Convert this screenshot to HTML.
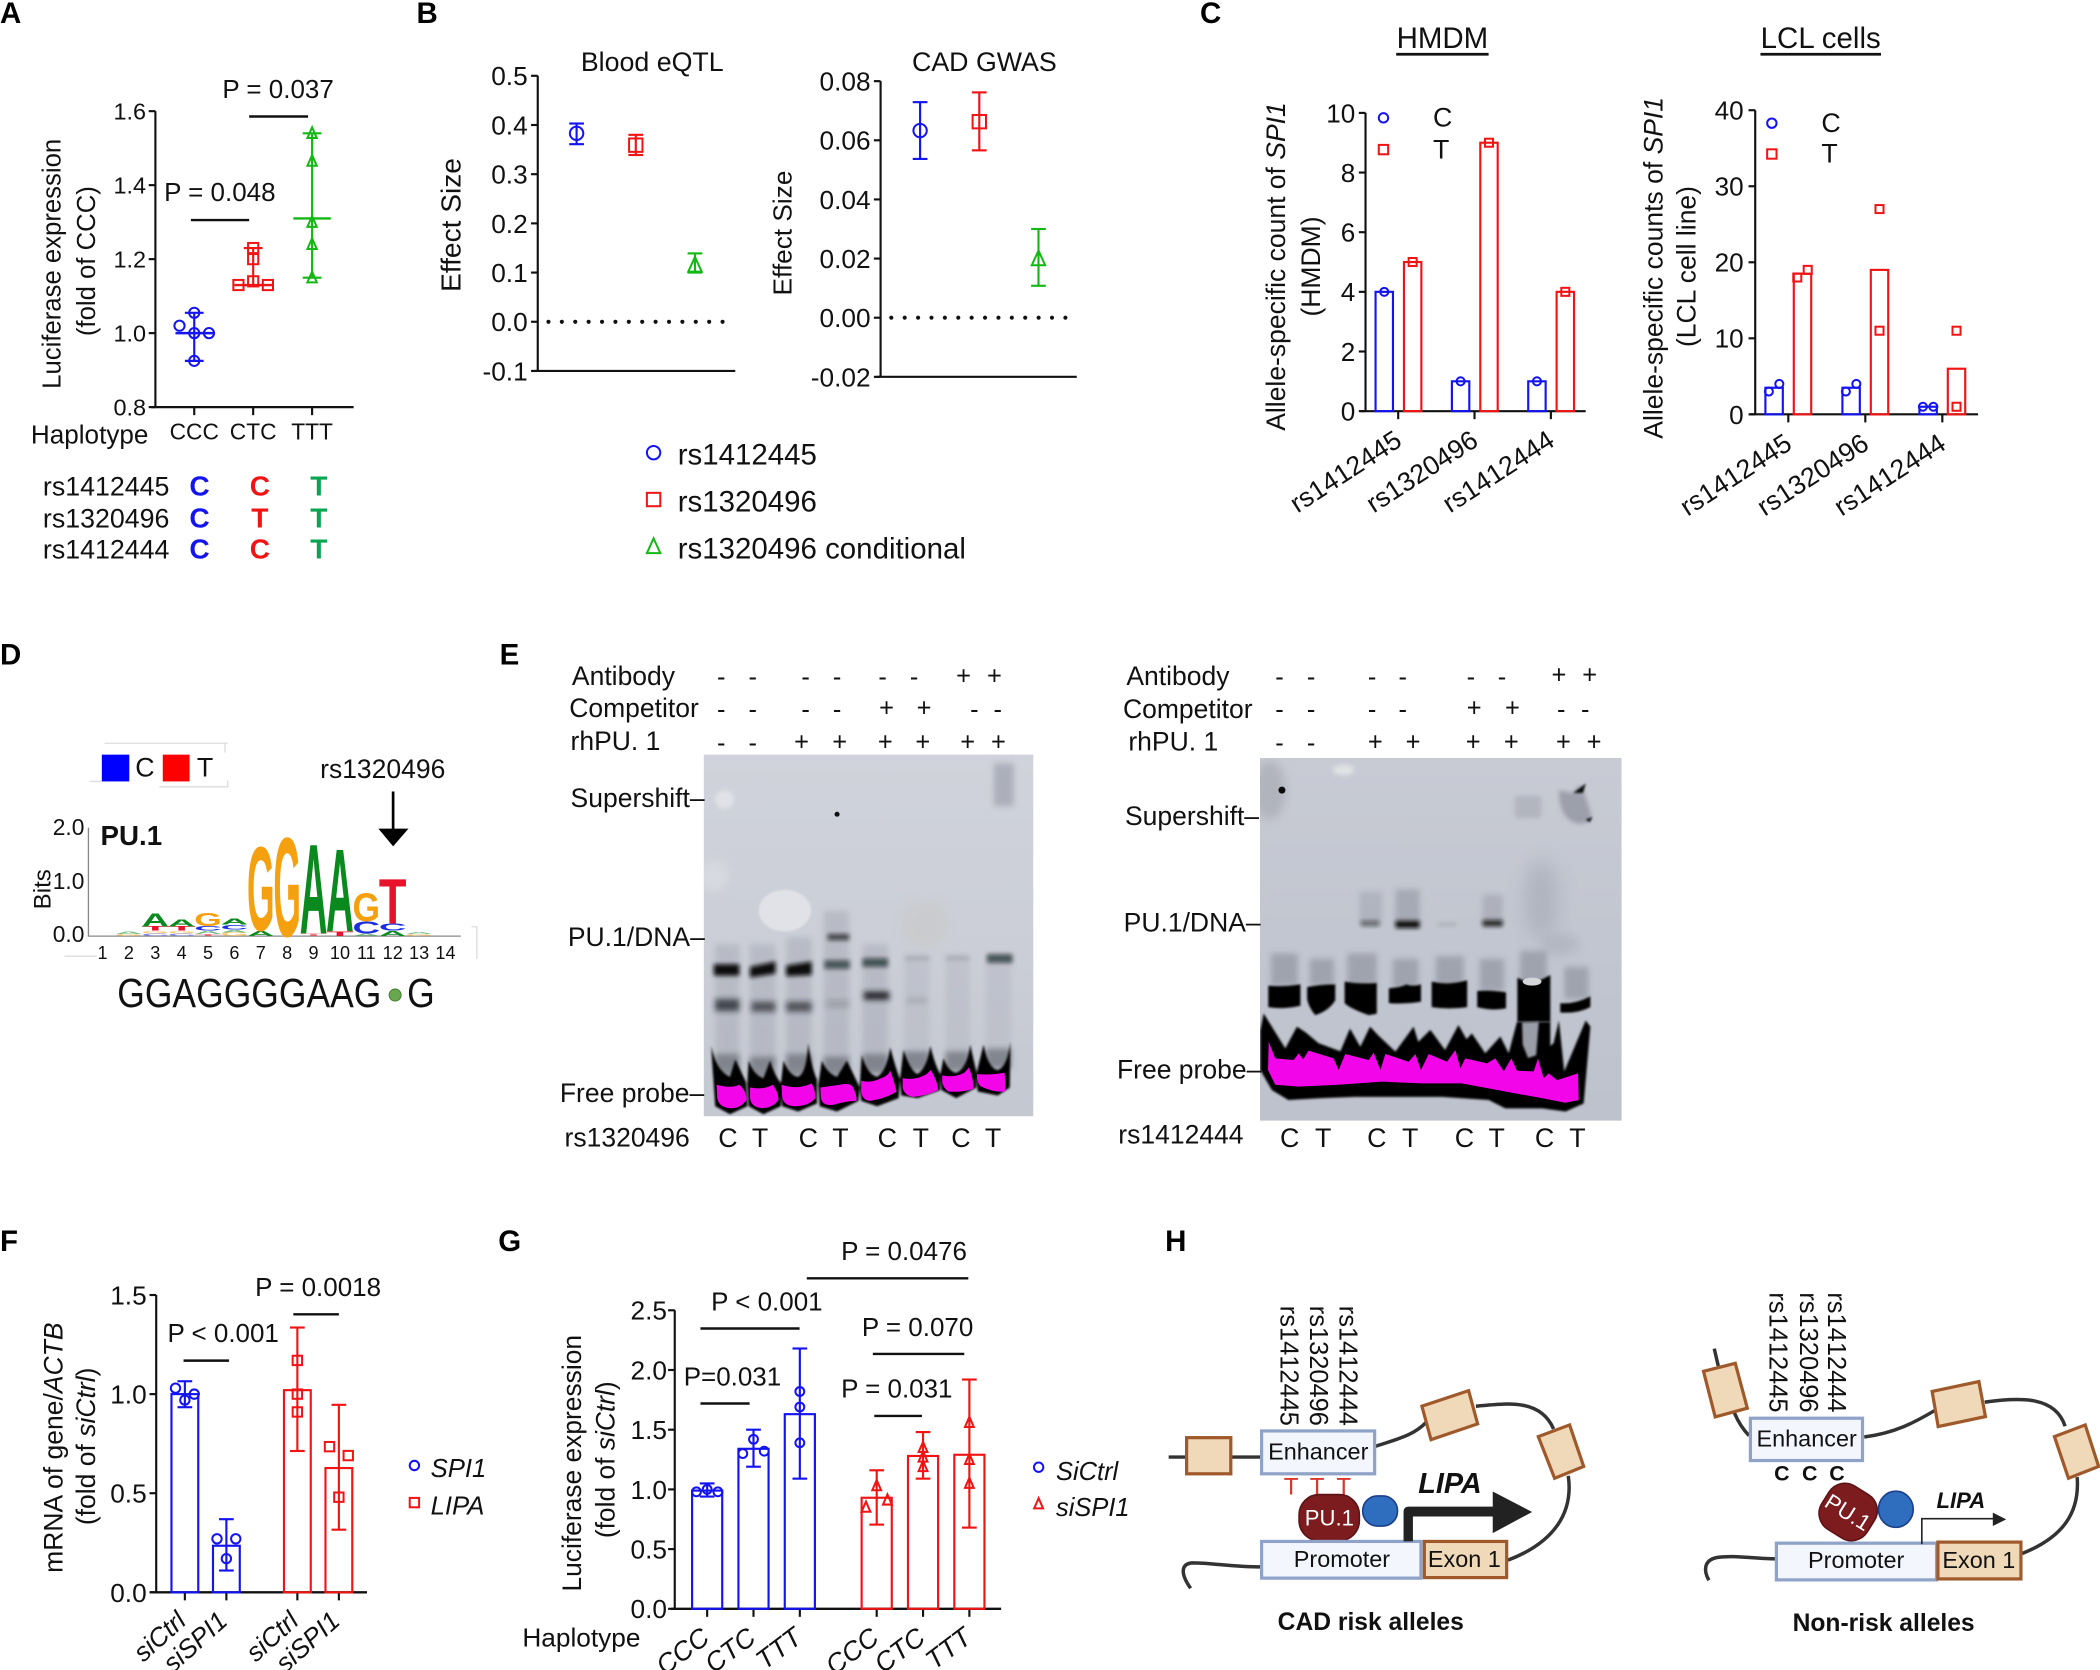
<!DOCTYPE html>
<html lang="en">
<head>
<meta charset="utf-8">
<title>Multi-panel figure: SPI1 and LIPA allele-specific regulation</title>
<style>
html,body{margin:0;padding:0;background:#fff}
svg{display:block}
text{font-family:"Liberation Sans",Arial,sans-serif;fill:#111}
.pl{font-size:22px;font-weight:700;fill:#000}
.g{font-size:20px}
.s{font-size:19px;text-anchor:middle}
.box{font-size:17.5px;text-anchor:middle}
.rs{font-size:19px}
.cap{font-size:18.4px;font-weight:700;fill:#111}
</style>
</head>
<body>
<svg id="figure" xmlns="http://www.w3.org/2000/svg" width="2100" height="1670" viewBox="0 0 1568 1247">
<defs>
<filter id="b1" filterUnits="userSpaceOnUse" x="400" y="500" width="900" height="400"><feGaussianBlur stdDeviation="1.6"/></filter>
<filter id="b2" filterUnits="userSpaceOnUse" x="400" y="500" width="900" height="400"><feGaussianBlur stdDeviation="2.2"/></filter>
<filter id="b3" filterUnits="userSpaceOnUse" x="400" y="500" width="900" height="400"><feGaussianBlur stdDeviation="3.5"/></filter>
<filter id="b6" filterUnits="userSpaceOnUse" x="400" y="500" width="900" height="400"><feGaussianBlur stdDeviation="7"/></filter>
<filter id="b05" filterUnits="userSpaceOnUse" x="400" y="500" width="900" height="400"><feGaussianBlur stdDeviation="0.7"/></filter>
<clipPath id="clipL"><rect x="525.5" y="563.5" width="246" height="270"/></clipPath>
<clipPath id="clipR"><rect x="940.8" y="566" width="270" height="270.8"/></clipPath>
<linearGradient id="gelL" x1="0" y1="0" x2="0" y2="1"><stop offset="0" stop-color="#d0d3db"/><stop offset="0.55" stop-color="#cbced7"/><stop offset="1" stop-color="#c4c8d1"/></linearGradient>
<linearGradient id="gelR" x1="0" y1="0" x2="0" y2="1"><stop offset="0" stop-color="#c8cbd4"/><stop offset="0.6" stop-color="#c1c5cf"/><stop offset="1" stop-color="#bdc2cd"/></linearGradient>
</defs>

<g>
<text class="pl" x="0" y="17">A</text>
<text class="pl" x="311" y="17">B</text>
<text class="pl" x="896" y="17">C</text>
<text class="pl" x="0" y="496">D</text>
<text class="pl" x="373" y="496">E</text>
<text class="pl" x="0" y="934">F</text>
<text class="pl" x="372" y="934">G</text>
<text class="pl" x="870" y="934">H</text>
</g>

<!-- Panel A haplotype table -->
<g>
<text class="g" x="32" y="370">rs1412445</text>
<text class="g" x="32" y="394">rs1320496</text>
<text class="g" x="32" y="417">rs1412444</text>
<g font-size="21" font-weight="700" text-anchor="middle">
<text x="149" y="370" style="fill:#1414f0">C</text><text x="194" y="370" style="fill:#f01414">C</text><text x="238" y="370" style="fill:#0aa550">T</text>
<text x="149" y="394" style="fill:#1414f0">C</text><text x="194" y="394" style="fill:#f01414">T</text><text x="238" y="394" style="fill:#0aa550">T</text>
<text x="149" y="417" style="fill:#1414f0">C</text><text x="194" y="417" style="fill:#f01414">C</text><text x="238" y="417" style="fill:#0aa550">T</text>
</g>
</g>

<!-- Panel D static furniture -->
<g>
<rect x="76" y="563.5" width="20.5" height="20" fill="#0000ff"/>
<text x="101" y="580" font-size="20">C</text>
<rect x="121.5" y="563.5" width="20" height="20" fill="#ff0000"/>
<text x="147" y="580" font-size="20">T</text>
<path d="M67 583.5H76M119 587.5H170V583M168 555V562M78 555H170" stroke="#ddd" fill="none" stroke-width="1"/>
<text x="239" y="581" font-size="19.8">rs1320496</text>
<path d="M293.5 591V620" stroke="#000" stroke-width="2"/>
<path d="M282.5 618.7H305L293.5 632Z" fill="#000"/>
<text x="75" y="631" font-size="20.7" font-weight="700">PU.1</text>
<path d="M66 618V699H344" stroke="#888" stroke-width="1" fill="none"/>
<path d="M48 714H72M352 692H356V716" stroke="#ddd" fill="none" stroke-width="1"/>
<g font-size="17" text-anchor="end">
<text x="63" y="623.5">2.0</text><text x="63" y="664">1.0</text><text x="63" y="703.5">0.0</text>
</g>
<text transform="rotate(-90 37.5 664)" x="37.5" y="664" font-size="18" text-anchor="middle">Bits</text>
<g id="logo"></g>
<g id="logoNums" font-size="13.5" text-anchor="middle"></g>
<text transform="translate(87.5 752) scale(1 1.16)" x="0" y="0" font-size="26.5">GGAGGGGAAG</text>
<circle cx="295" cy="743" r="4.5" fill="#6aa84f" stroke="#3c7a2c" stroke-width=".7"/>
<text transform="translate(304 752) scale(1 1.16)" x="0" y="0" font-size="26.5">G</text>
</g>

<!-- Panel E left gel -->
<g>
<g clip-path="url(#clipL)">
<rect x="525" y="563" width="247" height="271" fill="url(#gelL)"/>
<g fill="#a2a5b0" opacity=".45" filter="url(#b2)">
<rect x="534" y="705" width="18" height="92"/><rect x="560" y="705" width="19" height="92"/><rect x="587" y="700" width="19" height="97"/><rect x="615" y="680" width="19" height="117"/><rect x="644" y="705" width="19" height="92"/><rect x="675" y="712" width="19" height="85" opacity=".6"/><rect x="706" y="712" width="18" height="85" opacity=".6"/><rect x="736" y="712" width="19" height="85" opacity=".6"/>
</g>
<g fill="#5d6069" opacity=".6" filter="url(#b2)">
<rect x="534" y="787" width="18" height="17"/><rect x="560" y="789" width="19" height="17"/><rect x="587" y="787" width="19" height="17"/><rect x="615" y="789" width="19" height="15"/><rect x="644" y="787" width="19" height="15"/><rect x="675" y="785" width="19" height="15"/><rect x="706" y="785" width="18" height="15"/><rect x="736" y="783" width="19" height="15"/>
</g>
<ellipse cx="586" cy="680" rx="19.5" ry="15.5" fill="#e4e5e9" opacity=".9" filter="url(#b05)"/>
<ellipse cx="541" cy="597" rx="7" ry="7" fill="#e5e6ea" opacity=".8" filter="url(#b1)"/>
<ellipse cx="533" cy="654" rx="11" ry="12" fill="#dcdee3" opacity=".7" filter="url(#b3)"/>
<ellipse cx="690" cy="690" rx="18" ry="18" fill="#c9cac8" opacity=".6" filter="url(#b3)"/>
<g fill="#0a0b0e" filter="url(#b1)">
<rect x="533" y="720" width="19" height="8.5"/><path d="M560 722L579 718V727L560 730Z"/><path d="M587 721L606 718V728L587 729Z"/>
<rect x="615.5" y="717" width="19" height="6.5" opacity=".6"/><rect x="644" y="715.5" width="19" height="6.5" opacity=".62"/><rect x="737" y="712.5" width="19" height="6.5" opacity=".62"/>
<rect x="618" y="697.5" width="16" height="4.5" opacity=".7"/>
<rect x="676" y="714" width="18" height="3" opacity=".12"/><rect x="706" y="714" width="18" height="3" opacity=".12"/>
</g>
<g fill="#1e1f25" filter="url(#b2)">
<rect x="534" y="746" width="18" height="9" opacity=".75"/><rect x="561" y="748" width="18" height="7.5" opacity=".65"/><rect x="587" y="748" width="19" height="7.5" opacity=".65"/><rect x="645" y="740.5" width="19" height="6" opacity=".95"/><rect x="617" y="747" width="17" height="5" opacity=".2"/><rect x="677" y="745" width="15" height="4" opacity=".12"/>
</g>
<g fill="#8b8e9c" opacity=".5" filter="url(#b2)"><rect x="742" y="570" width="15" height="32"/></g>
<circle cx="625" cy="608" r="1.9" fill="#111"/>
<g fill="#000" filter="url(#b05)">
<path d="M531 781Q535 800 545 804L549 791L557 808L558 826L545 832L534 826Z"/>
<path d="M558 810L559 792Q563 803 570 805L575 792Q578 803 584 810L583 826L570 832L559 826Z"/>
<path d="M583 810L585 792Q590 804 596 804Q602 802 603.5 779Q606 798 610 806L610 824L596 830L584 826Z"/>
<path d="M611 810L613.7 792Q618 802 625 804L632.3 792L642 812L641 822L625 830L612 826Z"/>
<path d="M642 810L643.5 788Q648 803 655 804Q662 800 664.7 782Q668 795 672 806L671 820L655 826L643 822Z"/>
<path d="M672 806L674.7 784Q680 800 685 802Q692 798 694.6 781Q698 795 702 802L702 814L685 820L673 818Z"/>
<path d="M702 803L704.5 790Q708 800 714 801Q722 798 724.4 780Q727 792 729 800L729 812L714 820L703 814Z"/>
<path d="M729 802L734.4 780Q738 798 745 799Q752 797 754.4 778L754 812L745 818L730 815Z"/>
</g>
<g fill="#f205e8">
<path d="M535 810Q546 813 552 810Q557 814 557.6 821Q553 828 545 827.5Q537 827 535.5 820Z"/>
<path d="M560 812Q570 814 577 810Q581 815 581.3 821Q578 827 569 827.5Q561 827 560 820Z"/>
<path d="M583.5 810Q596 814 606 809Q609 814 608.7 820Q604 826 594 826Q585 826 584 819Z"/>
<path d="M612.5 812Q620 811 627 810Q635 808 637 812Q640 818 639.5 822Q632 822 622 825Q614 826 613 820Z"/>
<path d="M643 807Q650 809 658 805Q664 803 664.5 799Q667 805 669.5 815Q662 820 650 822Q644 822 643 815Z"/>
<path d="M674 805Q684 807 692 802Q694 800 695 799Q700 807 700.5 814Q692 818 682 819Q675 818 674 812Z"/>
<path d="M703.5 803Q712 805 720 801Q722 799 723.5 797Q727 806 727 813Q718 816 708 815Q704 812 703.5 808Z"/>
<path d="M729.5 802Q738 803 750 801Q751 807 750.5 815Q742 816 732 811Q729 808 729.5 802Z"/>
</g>
</g>
<g font-size="19.8">
<text x="427" y="511.5">Antibody</text>
<text x="425" y="535.5">Competitor</text>
<text x="426" y="560">rhPU. 1</text>
<text x="426" y="602.5">Supershift–</text>
<text x="424" y="706.5">PU.1/DNA–</text>
<text x="418" y="823">Free probe–</text>
<text x="421.5" y="856">rs1320496</text>
</g>
<g>
<text class="s" x="538.5" y="512">-</text><text class="s" x="562" y="512">-</text><text class="s" x="601.5" y="512">-</text><text class="s" x="625" y="512">-</text><text class="s" x="659" y="512">-</text><text class="s" x="682.5" y="512">-</text><text class="s" x="719.5" y="511">+</text><text class="s" x="742.5" y="511">+</text>
</g>
<g>
<text class="s" x="538.5" y="536">-</text><text class="s" x="562" y="536">-</text><text class="s" x="601.5" y="536">-</text><text class="s" x="625" y="536">-</text><text class="s" x="662" y="535">+</text><text class="s" x="690" y="535">+</text><text class="s" x="727.5" y="536">-</text><text class="s" x="745" y="536">-</text>
</g>
<g>
<text class="s" x="538.5" y="561">-</text><text class="s" x="562" y="561">-</text><text class="s" x="598.5" y="560.5">+</text><text class="s" x="627" y="560.5">+</text><text class="s" x="661" y="560.5">+</text><text class="s" x="689" y="560.5">+</text><text class="s" x="722.5" y="560.5">+</text><text class="s" x="745.5" y="560.5">+</text>
</g>
<g font-size="20" text-anchor="middle">
<text x="543.5" y="856.5">C</text><text x="567.5" y="856.5">T</text><text x="603.5" y="856.5">C</text><text x="627.5" y="856.5">T</text><text x="662.5" y="856.5">C</text><text x="687.5" y="856.5">T</text><text x="717.5" y="856.5">C</text><text x="741.5" y="856.5">T</text>
</g>
</g>

<!-- Panel E right gel -->
<g>
<g clip-path="url(#clipR)">
<rect x="940" y="565" width="272" height="273" fill="url(#gelR)"/>
<ellipse cx="1151" cy="672" rx="13" ry="30" fill="#9a9eaa" opacity=".45" filter="url(#b6)"/>
<ellipse cx="1165" cy="705" rx="14" ry="8" fill="#9a9eaa" opacity=".35" filter="url(#b3)"/>
<ellipse cx="1003" cy="575" rx="8" ry="4" fill="#e2e4e7" opacity=".9" filter="url(#b1)"/>
<ellipse cx="948" cy="590" rx="12" ry="22" fill="#9fa2aa" opacity=".55" filter="url(#b3)"/>
<circle cx="957.2" cy="590" r="2.6" fill="#0c0c0f"/>
<g fill="#7f828d" filter="url(#b2)" opacity=".5">
<rect x="1015" y="666" width="17" height="22" opacity=".55"/><rect x="1042" y="664" width="18" height="24" opacity=".85"/><rect x="1107" y="668" width="15" height="20" opacity=".65"/>
<rect x="949" y="712" width="20" height="24"/><rect x="978" y="716" width="18" height="20"/><rect x="1006" y="712" width="22" height="24"/><rect x="1040" y="716" width="19" height="22"/><rect x="1072" y="714" width="21" height="22"/><rect x="1105" y="716" width="18" height="24"/><rect x="1135" y="710" width="20" height="24"/><rect x="1168" y="722" width="18" height="24"/>
</g>
<g>
<rect x="1131" y="594" width="20" height="17" rx="3" fill="#9b9ea9" opacity=".45" filter="url(#b1)"/>
<path d="M1164 590Q1164 612 1178 615Q1188 616 1188 608Q1184 594 1180 586L1174 592Z" fill="#8f929d" opacity=".75" filter="url(#b1)"/>
<path d="M1175 592L1184 585L1182 592ZM1184 612L1189 610L1187 614Z" fill="#0c0c10" filter="url(#b05)"/>
</g>
<g fill="#0c0c10" filter="url(#b1)">
<rect x="1016" y="687.5" width="14" height="4" opacity=".55"/><rect x="1042" y="687.5" width="18" height="5.5"/><rect x="1073" y="689.5" width="15" height="1.5" opacity=".18"/><rect x="1107" y="687" width="15" height="4.8" opacity=".85"/>
</g>
<g fill="#000" filter="url(#b05)">
<path d="M947 736Q958 737 971 735V751Q958 754 947 752Z"/>
<path d="M976 737Q986 735 997 735V747Q992 755 982 758Q977 752 976 746Z"/>
<path d="M1004 733Q1015 735 1028 734V757L1022 758Q1008 753 1004 749Z"/>
<path d="M1037 738Q1047 737 1050 735Q1055 737 1061 735V748Q1049 750 1037 749Z"/>
<path d="M1069 733Q1082 736 1095.5 732V752Q1082 754 1069 752Z"/>
<path d="M1103 740Q1113 739 1124.5 741V753Q1114 755 1103 752Z"/>
<path d="M1133 730Q1142 735 1150 732Q1154 730 1157.6 728V763H1133Z"/>
<path d="M1165 749Q1176 750 1187.5 744V752Q1178 757 1165 756Z"/>
</g>
<ellipse cx="1144" cy="733" rx="7" ry="3" fill="#d5d6da"/>
<path filter="url(#b05)" fill="#000" d="M941 770L943.5 756.7L959.7 782.8L968.4 766.6L975 771L984.6 779L1000.8 785L1008 768L1015.7 781.6L1023 766.6L1029 773L1041.9 785.3L1055.5 766.6L1059 778L1068 769L1079 784L1089 765.4L1095 776L1099 771.6L1109 786.5L1120.3 774L1126.5 786.5L1132.7 763H1157.6V781L1160 779L1164 762L1168 800L1184 762L1187.5 766.6L1182.5 824L1169 830L1151.4 827.6L1124 827.6L1111.6 821.4L1076.7 819L1012 819L987 820L962 821.4L949.7 814L941 799Z"/>
<path d="M1136.5 763.5L1149 763L1147 788L1141 790L1137 780Z" fill="#9a9da7" filter="url(#b05)"/>
<path fill="#f205e8" d="M947.3 777.8L952.2 790.3L966 791.5L969.7 786.5L973 791L977.1 784.5L995.8 790.3L999.5 799L1004.5 787L1022 791.5L1025.7 786L1030.7 799L1034.4 787L1051.8 792.8L1056.8 787L1061 799L1066.8 787L1080.4 792.8L1086.7 784L1090.4 797.7L1094.1 790.3L1110.3 794L1116.5 790.3L1122.8 800L1128.5 790.3L1132.7 799.5L1145.2 800L1148.4 790.3L1152.6 805L1156.4 801.5L1162.6 806.5L1178.3 801.5L1178.8 821.4L1168.8 823.4L1151.4 820L1131.5 816.4L1111.6 812.7L1091.3 809L1061.8 809L1032 807.7L999.5 810L969.7 811.4L952.2 810L946.8 799Z"/>
</g>
<g font-size="19.8">
<text x="841" y="511.5">Antibody</text>
<text x="838.5" y="536">Competitor</text>
<text x="842.5" y="560.5">rhPU. 1</text>
<text x="840" y="616">Supershift–</text>
<text x="839" y="695.5">PU.1/DNA–</text>
<text x="834" y="805.5">Free probe–</text>
<text x="835" y="854">rs1412444</text>
</g>
<g>
<text class="s" x="955.4" y="512">-</text><text class="s" x="979" y="512">-</text><text class="s" x="1024.5" y="512">-</text><text class="s" x="1047.4" y="512">-</text><text class="s" x="1098.3" y="512">-</text><text class="s" x="1121.5" y="512">-</text><text class="s" x="1164" y="510.5">+</text><text class="s" x="1187" y="510.5">+</text>
</g>
<g>
<text class="s" x="955.4" y="536">-</text><text class="s" x="979" y="536">-</text><text class="s" x="1024.5" y="536">-</text><text class="s" x="1047.4" y="536">-</text><text class="s" x="1100.7" y="535">+</text><text class="s" x="1129.3" y="535">+</text><text class="s" x="1165.8" y="536">-</text><text class="s" x="1183.7" y="536">-</text>
</g>
<g>
<text class="s" x="955.4" y="561">-</text><text class="s" x="979" y="561">-</text><text class="s" x="1026.9" y="560.5">+</text><text class="s" x="1055.1" y="560.5">+</text><text class="s" x="1100" y="560.5">+</text><text class="s" x="1128.5" y="560.5">+</text><text class="s" x="1167.4" y="560.5">+</text><text class="s" x="1190.3" y="560.5">+</text>
</g>
<g font-size="20" text-anchor="middle">
<text x="963" y="856.5">C</text><text x="988" y="856.5">T</text><text x="1028" y="856.5">C</text><text x="1053" y="856.5">T</text><text x="1093.5" y="856.5">C</text><text x="1117.5" y="856.5">T</text><text x="1153.3" y="856.5">C</text><text x="1177.8" y="856.5">T</text>
</g>
</g>

<!-- Panel H left -->
<g>
<g fill="none" stroke="#333" stroke-width="2.6">
<path d="M872.6 1088H942"/>
<path d="M1027 1080C1045 1074 1055 1072 1065 1062"/>
<path d="M1102 1050C1125 1048 1150 1044 1160 1067"/>
<path d="M1171 1102C1175 1130 1160 1152 1126 1165"/>
<path d="M942 1170C920 1170 905 1167 890 1167C881 1168 882 1176 889 1186"/>
</g>
<g fill="#efd9b8" stroke="#a0592a" stroke-width="2.4">
<rect x="886" y="1073.5" width="33" height="27"/>
<path d="M1061.7 1050L1096.6 1038.4L1103.3 1063.2L1068.5 1075Z"/>
<path d="M1148.6 1072.7L1172 1064L1182.5 1095L1160.8 1103.8Z"/>
</g>
<rect x="942" y="1068.5" width="84.4" height="32" fill="#f4f6fe" stroke="#8fa3c8" stroke-width="2.4"/>
<text class="box" x="984.3" y="1090">Enhancer</text>
<text class="rs" transform="rotate(90 956 975)" x="956" y="975">rs1412445</text>
<text class="rs" transform="rotate(90 978 975)" x="978" y="975">rs1320496</text>
<text class="rs" transform="rotate(90 1000 975)" x="1000" y="975">rs1412444</text>
<g font-size="18" text-anchor="middle">
<text x="964" y="1116" style="fill:#d9382e">T</text><text x="983.5" y="1116" style="fill:#d9382e">T</text><text x="1003.3" y="1116" style="fill:#d9382e">T</text>
</g>
<rect x="970" y="1116" width="45" height="34.5" rx="15" fill="#7c1c1f" stroke="#5d1214" stroke-width="1.2"/>
<text x="992.6" y="1139" font-size="16.5" text-anchor="middle" style="fill:#fff">PU.1</text>
<rect x="1017.5" y="1117" width="26" height="22.5" rx="11" fill="#2f6dbf" stroke="#1c3f8a" stroke-width="1.2"/>
<rect x="942" y="1151" width="119" height="27.4" fill="#f4f6fe" stroke="#8fa3c8" stroke-width="2.4"/>
<text class="box" x="1002" y="1170">Promoter</text>
<rect x="1063.5" y="1151" width="61.5" height="27" fill="#efd9b8" stroke="#a0592a" stroke-width="2.4"/>
<text class="box" x="1093.4" y="1170">Exon 1</text>
<path d="M1048 1151V1129Q1048 1125 1052 1125H1114.6V1113.7L1144 1129L1114.6 1144.8V1132.4H1055V1151Z" fill="#222"/>
<text x="1059" y="1115" font-size="21.5" font-weight="700" font-style="italic">LIPA</text>
<text class="cap" x="954" y="1217">CAD risk alleles</text>
</g>

<!-- Panel H right -->
<g>
<g fill="none" stroke="#333" stroke-width="2.6">
<path d="M1280 1007L1283 1020"/>
<path d="M1295 1055C1298 1062 1302 1068 1306 1072"/>
<path d="M1392 1073C1415 1070 1430 1062 1445 1053"/>
<path d="M1482 1047C1510 1043 1535 1043 1542 1065"/>
<path d="M1551 1103C1553 1130 1540 1148 1510 1160"/>
<path d="M1326 1164C1310 1164 1295 1161 1282 1163C1272 1165 1272 1173 1276 1180"/>
</g>
<g fill="#efd9b8" stroke="#a0592a" stroke-width="2.4">
<path d="M1272 1024L1295.7 1018L1304.7 1051.5L1280.7 1058Z"/>
<path d="M1442.7 1039L1477.6 1031.6L1482.5 1057.8L1447.2 1065.2Z"/>
<path d="M1534 1072.7L1557 1064L1567 1095L1544.5 1103.8Z"/>
</g>
<rect x="1307" y="1059" width="83.7" height="31.6" fill="#f4f6fe" stroke="#8fa3c8" stroke-width="2.4"/>
<text class="box" x="1349" y="1080">Enhancer</text>
<text class="rs" transform="rotate(90 1321.4 965)" x="1321.4" y="965">rs1412445</text>
<text class="rs" transform="rotate(90 1344 965)" x="1344" y="965">rs1320496</text>
<text class="rs" transform="rotate(90 1365 965)" x="1365" y="965">rs1412444</text>
<g font-size="16" font-weight="700" text-anchor="middle">
<text x="1330.5" y="1105.5">C</text><text x="1351.3" y="1105.5">C</text><text x="1371.7" y="1105.5">C</text>
</g>
<g transform="rotate(32 1380 1129)">
<rect x="1360" y="1110" width="40" height="38" rx="14" fill="#7c1c1f" stroke="#5d1214" stroke-width="1.2"/>
<text x="1380" y="1135" font-size="16.5" text-anchor="middle" style="fill:#fff">PU.1</text>
</g>
<ellipse cx="1415.6" cy="1127" rx="13" ry="13.5" fill="#2f6dbf" stroke="#1c3f8a" stroke-width="1.2"/>
<rect x="1326.4" y="1152.3" width="119.6" height="27.4" fill="#f4f6fe" stroke="#8fa3c8" stroke-width="2.4"/>
<text class="box" x="1386" y="1171">Promoter</text>
<rect x="1447" y="1151.5" width="62" height="27.5" fill="#efd9b8" stroke="#a0592a" stroke-width="2.4"/>
<text class="box" x="1477.6" y="1171">Exon 1</text>
<path d="M1435 1153V1134H1490" fill="none" stroke="#222" stroke-width="1.2"/>
<path d="M1488 1129.5L1498 1134.5L1488 1139.5Z" fill="#222"/>
<text x="1446" y="1126" font-size="16.5" font-weight="700" font-style="italic">LIPA</text>
<text class="cap" x="1338.5" y="1218">Non-risk alleles</text>
</g>

<g id="charts"></g>
</svg>

<script>
// ---------- Panel A ----------
const aCategories = ['CCC', 'CTC', 'TTT'];
const aTicks = [0.8, 1.0, 1.2, 1.4, 1.6];
const aPointsCCC = [1.055, 1.02, 1.0, 1.0, 0.925];
const aPointsCTC = [1.23, 1.2, 1.13, 1.14, 1.13];
const aPointsTTT = [1.54, 1.465, 1.3, 1.24, 1.15];
const aMedian = [1.0, 1.13, 1.31];
const aLow = [0.925, 1.13, 1.15];
const aHigh = [1.055, 1.23, 1.54];

// ---------- Panel B ----------
const bSnps = ['rs1412445', 'rs1320496', 'rs1320496 conditional'];
const eqtlTicks = [-0.1, 0.0, 0.1, 0.2, 0.3, 0.4, 0.5];
const eqtlEffect = [0.383, 0.359, 0.1155];
const eqtlLow = [0.361, 0.339, 0.1];
const eqtlHigh = [0.403, 0.38, 0.139];
const gwasTicks = [-0.02, 0.0, 0.02, 0.04, 0.06, 0.08];
const gwasEffect = [0.0633, 0.0663, 0.02];
const gwasLow = [0.0537, 0.0566, 0.0108];
const gwasHigh = [0.0729, 0.0762, 0.03];

// ---------- Panel C ----------
const cSnps = ['rs1412445', 'rs1320496', 'rs1412444'];
const hmdmTicks = [0, 2, 4, 6, 8, 10];
const hmdmAlleleC = [4, 1, 1];
const hmdmAlleleT = [5, 9, 4];
const lclTicks = [0, 10, 20, 30, 40];
const lclMeanC = [3.5, 3.5, 1];
const lclMeanT = [18.5, 19, 6];
const lclPointsC = [[3, 4], [3, 4], [1, 1]];
const lclPointsT = [[18, 19], [11, 27], [1, 11]];

// ---------- Panel D ----------
const logoPositions = [2, 3, 4, 5, 6, 7, 8, 9, 10, 11, 12, 13];
const logoStacks = [
  [['G', 0.04], ['A', 0.05]],
  [['C', 0.05], ['G', 0.05], ['T', 0.08], ['A', 0.25]],
  [['C', 0.05], ['G', 0.05], ['T', 0.08], ['A', 0.13]],
  [['T', 0.04], ['A', 0.06], ['C', 0.09], ['G', 0.24]],
  [['G', 0.07], ['A', 0.05], ['C', 0.09], ['A', 0.11]],
  [['A', 0.1], ['G', 1.59]],
  [['G', 1.88]],
  [['T', 0.05], ['A', 1.7]],
  [['T', 0.09], ['A', 1.56]],
  [['A', 0.05], ['C', 0.23], ['G', 0.53]],
  [['A', 0.1], ['C', 0.13], ['T', 0.85]],
  [['G', 0.04], ['A', 0.04]]
];

// ---------- Panel F ----------
const fLabels = ['siCtrl', 'siSPI1'];
const fTicks = [0.0, 0.5, 1.0, 1.5];
const fMeanSPI1 = [1.0, 0.235];
const fLowSPI1 = [0.934, 0.11];
const fHighSPI1 = [1.065, 0.369];
const fPointsSPI1 = [[1.03, 0.97, 1.0], [0.27, 0.27, 0.17]];
const fMeanLIPA = [1.02, 0.627];
const fLowLIPA = [0.713, 0.316];
const fHighLIPA = [1.336, 0.946];
const fPointsLIPA = [[1.17, 1.0, 0.91], [0.735, 0.69, 0.48]];

// ---------- Panel G ----------
const gHaplotypes = ['CCC', 'CTC', 'TTT'];
const gTicks = [0.0, 0.5, 1.0, 1.5, 2.0, 2.5];
const gMeanCtrl = [0.99, 1.34, 1.63];
const gLowCtrl = [0.94, 1.19, 1.09];
const gHighCtrl = [1.05, 1.5, 2.18];
const gPointsCtrl = [[0.98, 1.0, 0.98], [1.3, 1.42, 1.32], [1.82, 1.69, 1.39]];
const gMeanSi = [0.93, 1.28, 1.29];
const gLowSi = [0.705, 1.09, 0.68];
const gHighSi = [1.16, 1.48, 1.92];
const gPointsSi = [[0.85, 1.03, 0.91], [1.35, 1.27, 1.19], [1.56, 1.25, 1.05]];

// ---------- helpers ----------
const NS = 'http://www.w3.org/2000/svg';
const BLUE = '#1414f0', RED = '#f01414', GREEN = '#14b814';
const root = document.getElementById('charts');

function node(tag, attrs, parent) {
  const n = document.createElementNS(NS, tag);
  for (const k in attrs) n.setAttribute(k, attrs[k]);
  (parent || root).appendChild(n);
  return n;
}
function group(name, parent) {
  const g = node('g', {}, parent);
  
  
  return g;
}
function linear(d0, d1, r0, r1) {
  return v => r0 + (v - d0) * (r1 - r0) / (d1 - d0);
}
function label(parent, name, parts, x, y, size, o) {
  o = o || {};
  const a = { x: x, y: y, 'font-size': size };
  if (o.anchor) a['text-anchor'] = o.anchor;
  if (o.weight) a['font-weight'] = o.weight;
  if (o.italic) a['font-style'] = 'italic';
  if (o.rotate) a.transform = 'rotate(' + o.rotate + ' ' + x + ' ' + y + ')';
  const t = node('text', a, parent);
  
  
  if (o.fill) t.style.fill = o.fill;
  (Array.isArray(parts) ? parts : [parts]).forEach(p => {
    if (typeof p === 'string') t.appendChild(document.createTextNode(p));
    else {
      const s = node('tspan', { 'font-style': 'italic' }, t);
      s.textContent = p.i;
    }
  });
  return t;
}
function line(parent, name, x1, y1, x2, y2, color, w) {
  const l = node('line', { x1: x1, y1: y1, x2: x2, y2: y2, stroke: color || '#111', 'stroke-width': w || 1.6 }, parent);
  
  
  return l;
}
function marker(parent, name, kind, x, y, color, r) {
  r = r || 4;
  let m;
  const base = { fill: 'none', stroke: color, 'stroke-width': 1.5 };
  if (kind === 'circle') m = node('circle', Object.assign({ cx: x, cy: y, r: r }, base), parent);
  else if (kind === 'square') m = node('rect', Object.assign({ x: x - r, y: y - r, width: 2 * r, height: 2 * r }, base), parent);
  else m = node('path', Object.assign({ d: 'M' + x + ' ' + (y - r - 1) + 'L' + (x + r) + ' ' + (y + r) + 'L' + (x - r) + ' ' + (y + r) + 'Z' }, base), parent);
  
  
  return m;
}
function yAxis(parent, name, scale, ticks, x, top, bottom, labelX, size, digits) {
  const g = group(name, parent);
  line(g, 'y-axis-line', x, scale(top), x, scale(bottom));
  ticks.forEach(v => {
    line(g, 'y-tick', x - 5, scale(v), x, scale(v));
    label(g, 'y-tick-label', v.toFixed(digits), labelX, scale(v) + size * 0.36, size, { anchor: 'end' });
  });
  return g;
}
function swarm(values, scale, spread) {
  const ys = values.map(scale);
  const cluster = values.map((_, i) => i);
  ys.forEach((a, i) => ys.forEach((b, j) => {
    if (j > i && Math.abs(a - b) < 7) {
      const from = cluster[j], to = cluster[i];
      cluster.forEach((c, k) => { if (c === from) cluster[k] = to; });
    }
  }));
  return values.map((_, i) => {
    const members = cluster.map((c, k) => c === cluster[i] ? k : -1).filter(k => k >= 0);
    if (members.length < 2) return 0;
    const rank = members.indexOf(i);
    return (2 * rank / (members.length - 1) - 1) * spread;
  });
}
function errorBar(parent, name, x, yLow, yHigh, cap, color) {
  const g = group(name, parent);
  line(g, 'error-stem', x, yLow, x, yHigh, color);
  line(g, 'error-cap-low', x - cap, yLow, x + cap, yLow, color);
  line(g, 'error-cap-high', x - cap, yHigh, x + cap, yHigh, color);
}
function bar(parent, name, cx, w, yTop, yBase, color) {
  const b = node('rect', { x: cx - w / 2, y: yTop, width: w, height: Math.max(0, yBase - yTop), fill: 'none', stroke: color, 'stroke-width': 1.6 }, parent);
  
  
}
function sig(parent, name, text, tx, ty, x1, x2, ly) {
  label(parent, name + '-text', text, tx, ty, 19.4);
  line(parent, name + '-bracket', x1, ly, x2, ly, '#111', 1.8);
}

// ---------- Panel A ----------
(function () {
  const g = group('panel-a-luciferase-haplotypes');
  const y = linear(0.8, 1.6, 304, 83);
  const x = i => 145 + 44 * i;
  yAxis(g, 'panel-a-y-axis', y, aTicks, 116, 1.6, 0.8, 109, 17.5, 1);
  line(g, 'panel-a-x-axis', 113, y(0.8), 264, y(0.8));
  label(g, 'panel-a-y-title', 'Luciferase expression', 45, 197, 19.2, { anchor: 'middle', rotate: -90 });
  label(g, 'panel-a-y-subtitle', '(fold of CCC)', 71, 195, 19.2, { anchor: 'middle', rotate: -90 });
  label(g, 'haplotype-label', 'Haplotype', 23, 331, 19.5);
  const colors = [BLUE, RED, GREEN], kinds = ['circle', 'square', 'triangle'];
  const series = [aPointsCCC, aPointsCTC, aPointsTTT];
  aCategories.forEach((c, i) => {
    line(g, 'x-tick', x(i), 304, x(i), 310);
    label(g, 'x-tick-label', c, x(i), 328, 17, { anchor: 'middle' });
    errorBar(g, 'range-' + c, x(i), y(aLow[i]), y(aHigh[i]), 7, colors[i]);
    line(g, 'median-' + c, x(i) - 14, y(aMedian[i]), x(i) + 14, y(aMedian[i]), colors[i], 1.8);
    const off = swarm(series[i], y, 11);
    series[i].forEach((v, k) => {
      marker(g, 'point-' + c, kinds[i], x(i) + off[k], y(v), colors[i], i === 2 ? 3.5 : 3.8);
    });
  });
  sig(g, 'p-value-ccc-ctc', 'P = 0.048', 122.5, 150, 142.5, 186, 164.3);
  sig(g, 'p-value-ctc-ttt', 'P = 0.037', 166, 73, 186, 230, 87);
})();

// ---------- Panel B ----------
function effectPlot(name, title, titleX, axisX, axisRight, yTop, yBot, vMax, vMin, ticks, digits, labelX, effect, low, high, firstX, yLabelX, yLabelY, yLabelSize) {
  const g = group(name);
  const y = linear(vMin, vMax, yBot, yTop);
  const x = i => firstX + 44.2 * i;
  yAxis(g, name + '-y-axis', y, ticks, axisX, vMax, vMin, labelX, 19.6, digits);
  line(g, name + '-x-axis', axisX - 3, y(vMin), axisRight, y(vMin));
  label(g, name + '-title', title, titleX, 53, 20, { anchor: 'middle' });
  label(g, name + '-y-title', 'Effect Size', yLabelX, yLabelY, yLabelSize, { anchor: 'middle', rotate: -90 });
  const zero = node('line', { x1: axisX + 8, y1: y(0), x2: axisRight - 2, y2: y(0), stroke: '#111', 'stroke-width': 3.1, 'stroke-dasharray': '0 10', 'stroke-linecap': 'round' }, g);
  
  
  const colors = [BLUE, RED, GREEN], kinds = ['circle', 'square', 'triangle'];
  bSnps.forEach((s, i) => {
    errorBar(g, 'error-bar-' + i, x(i), y(low[i]), y(high[i]), 5.5, colors[i]);
    marker(g, 'effect-' + s.replace(' ', '-'), kinds[i], x(i), y(effect[i]), colors[i], 5);
  });
}
effectPlot('blood-eqtl', 'Blood eQTL', 487, 401.5, 549, 56.6, 277, 0.5, -0.1, eqtlTicks, 1, 394, eqtlEffect, eqtlLow, eqtlHigh, 430.5, 344, 168, 21);
effectPlot('cad-gwas', 'CAD GWAS', 735, 657.5, 804, 60.6, 281.4, 0.08, -0.02, gwasTicks, 2, 650, gwasEffect, gwasLow, gwasHigh, 687, 591, 174, 19.6);
(function () {
  const g = group('panel-b-legend');
  const colors = [BLUE, RED, GREEN], kinds = ['circle', 'square', 'triangle'], ys = [338, 373, 408];
  bSnps.forEach((s, i) => {
    marker(g, 'legend-marker', kinds[i], 488, ys[i], colors[i], 5);
    label(g, 'legend-label', s, 506, ys[i] + 9, 22);
  });
})();

// ---------- Panel C ----------
function alleleAxes(name, title, titleX, underline, axisX, axisRight, y, ticks, top, labelX, firstX, step, yTitle, yLine2, t1x, t2x, t1y, t2y, legX, legTx, legY1, legY2) {
  const g = group(name);
  const y0 = y(0);
  yAxis(g, name + '-y-axis', y, ticks, axisX, top, 0, labelX, 19.5, 0);
  line(g, name + '-x-axis', axisX - 4, y0, axisRight, y0);
  cSnps.forEach((s, i) => {
    const cx = firstX + step * i;
    line(g, 'x-tick', cx, y0, cx, y0 + 6);
    label(g, 'x-tick-label', s, cx + 4, y0 + 25, 20, { anchor: 'end', rotate: -33 });
  });
  label(g, name + '-title', title, titleX, 36, 22, { anchor: 'middle' });
  line(g, name + '-title-underline', titleX - underline / 2, 40.5, titleX + underline / 2, 40.5, '#111', 2);
  label(g, name + '-y-title', yTitle, t1x, t1y, 19.8, { anchor: 'middle', rotate: -90 });
  label(g, name + '-y-subtitle', yLine2, t2x, t2y, 19.8, { anchor: 'middle', rotate: -90 });
  marker(g, 'legend-marker-c', 'circle', legX, legY1, BLUE, 3.5);
  marker(g, 'legend-marker-t', 'square', legX, legY2, RED, 3.5);
  label(g, 'legend-label-c', 'C', legTx, legY1 + 6.5, 20);
  label(g, 'legend-label-t', 'T', legTx, legY2 + 6.5, 20);
  return g;
}
(function () {
  const y = linear(0, 10, 307, 84.3);
  const cx = i => 1044.2 + 57 * i;
  const g = alleleAxes('hmdm-chart', 'HMDM', 1077, 69, 1019.6, 1184, y, hmdmTicks, 10, 1012, 1044, 57,
    ['Allele-specific count of ', { i: 'SPI1' }], '(HMDM)', 959.5, 985.7, 199, 199, 1033, 1070, 88, 111.7);
  cSnps.forEach((s, i) => {
    bar(g, 'bar-c-' + s, cx(i) - 10.6, 13, y(hmdmAlleleC[i]), y(0), BLUE);
    bar(g, 'bar-t-' + s, cx(i) + 10.6, 13, y(hmdmAlleleT[i]), y(0), RED);
    marker(g, 'point-c-' + s, 'circle', cx(i) - 10.6, y(hmdmAlleleC[i]), BLUE, 3);
    marker(g, 'point-t-' + s, 'square', cx(i) + 10.6, y(hmdmAlleleT[i]), RED, 3);
  });
})();
(function () {
  const y = linear(0, 40, 309.4, 82.3);
  const cx = i => 1335.3 + 57.5 * i;
  const g = alleleAxes('lcl-chart', 'LCL cells', 1359.5, 90, 1310.6, 1477, y, lclTicks, 40, 1302, 1335.3, 57.5,
    ['Allele-specific counts of ', { i: 'SPI1' }], '(LCL cell line)', 1241.4, 1266, 200, 199, 1323, 1360, 92, 115);
  cSnps.forEach((s, i) => {
    bar(g, 'bar-c-' + s, cx(i) - 10.6, 13, y(lclMeanC[i]), y(0), BLUE);
    bar(g, 'bar-t-' + s, cx(i) + 10.6, 13, y(lclMeanT[i]), y(0), RED);
    const oc = swarm(lclPointsC[i], y, 3.9), ot = swarm(lclPointsT[i], y, 3.9);
    lclPointsC[i].forEach((v, k) => {
      marker(g, 'point-c-' + s, 'circle', cx(i) - 10.6 + oc[k], y(v), BLUE, 3);
    });
    lclPointsT[i].forEach((v, k) => {
      marker(g, 'point-t-' + s, 'square', cx(i) + 10.6 + ot[k], y(v), RED, 3);
    });
  });
})();

// ---------- Panel D logo ----------
(function () {
  const lg = document.getElementById('logo'), nums = document.getElementById('logoNums');
  const y = linear(0, 2, 699, 618);
  const x = p => 76.5 + 19.7 * (p - 1);
  const widths = { A: 0.722, C: 0.722, G: 0.778, T: 0.611 };
  const fills = { A: '#0a8a1e', C: '#1a2ee0', G: '#f5a00f', T: '#e8122a' };
  for (let p = 1; p <= 14; p++) {
    const n = node('text', { x: x(p), y: 716 }, nums);
    
    
    n.textContent = p;
  }
  logoPositions.forEach((p, i) => {
    let base = 0;
    logoStacks[i].forEach(st => {
      const letter = st[0], bits = st[1];
      const yb = y(base), h = y(0) - y(bits);
      const sx = 20.6 / (widths[letter] * 100), sy = h / 72;
      const t = node('text', { x: 0, y: 0, 'font-size': 100, 'font-weight': 700, transform: 'translate(' + (x(p) - 10.3) + ' ' + yb + ') scale(' + sx + ' ' + sy + ')' }, lg);
      
      
      t.style.fill = fills[letter];
      if (bits < 0.08) t.style.opacity = 0.55;
      t.textContent = letter;
      base += bits;
    });
  });
})();

// ---------- Panel F ----------
(function () {
  const g = group('panel-f-mrna');
  const y = linear(0, 1.5, 1189, 967);
  const x = (gp, i) => 138 + 84 * gp + 31 * i;
  yAxis(g, 'panel-f-y-axis', y, fTicks, 116.6, 1.5, 0, 109.5, 19.6, 1);
  line(g, 'panel-f-x-axis', 112, y(0), 274, y(0), '#111', 1.8);
  label(g, 'panel-f-y-title', ['mRNA of gene/', { i: 'ACTB' }], 46.5, 1081, 19.8, { anchor: 'middle', rotate: -90 });
  label(g, 'panel-f-y-subtitle', ['(fold of ', { i: 'siCtrl' }, ')'], 71, 1080, 19.8, { anchor: 'middle', rotate: -90 });
  const sets = [
    [fMeanSPI1, fLowSPI1, fHighSPI1, fPointsSPI1, BLUE, 'circle', 'spi1'],
    [fMeanLIPA, fLowLIPA, fHighLIPA, fPointsLIPA, RED, 'square', 'lipa']
  ];
  sets.forEach((s, gp) => {
    fLabels.forEach((lab, i) => {
      const cx = x(gp, i);
      line(g, 'x-tick', cx, y(0), cx, y(0) + 6);
      label(g, 'x-tick-label', lab, cx + 2, y(0) + 23, 19.5, { anchor: 'end', rotate: -42, italic: true });
      bar(g, 'bar-' + s[6] + '-' + lab, cx, 20, y(s[0][i]), y(0), s[4]);
      errorBar(g, 'error-' + s[6] + '-' + lab, cx, y(s[1][i]), y(s[2][i]), 5.5, s[4]);
      const off = swarm(s[3][i], y, 7);
      s[3][i].forEach((v, k) => {
        marker(g, 'point-' + s[6] + '-' + lab, s[5], cx + off[k], y(v), s[4], 3.5);
      });
    });
  });
  sig(g, 'p-value-spi1', 'P < 0.001', 125, 1002, 137, 171, 1016);
  sig(g, 'p-value-lipa', 'P = 0.0018', 190.5, 967.7, 219, 253, 981.4);
  marker(g, 'legend-marker-spi1', 'circle', 309.4, 1094.3, BLUE, 3.5);
  label(g, 'legend-label-spi1', [{ i: 'SPI1' }], 321.5, 1103, 19.2);
  marker(g, 'legend-marker-lipa', 'square', 309.4, 1122, RED, 3.5);
  label(g, 'legend-label-lipa', [{ i: 'LIPA' }], 321.5, 1131, 19.2);
})();

// ---------- Panel G ----------
(function () {
  const g = group('panel-g-luciferase-knockdown');
  const y = linear(0, 2.5, 1201.3, 978.4);
  const x = (gp, i) => 528 + 126.6 * gp + 34.6 * i;
  yAxis(g, 'panel-g-y-axis', y, gTicks, 503.8, 2.5, 0, 498, 19.6, 1);
  line(g, 'panel-g-x-axis', 501, y(0), 747.5, y(0), '#111', 1.8);
  label(g, 'panel-g-y-title', 'Luciferase expression', 433.7, 1092.6, 19.7, { anchor: 'middle', rotate: -90 });
  label(g, 'panel-g-y-subtitle', ['(fold of ', { i: 'siCtrl' }, ')'], 459, 1090, 19.7, { anchor: 'middle', rotate: -90 });
  label(g, 'haplotype-label', 'Haplotype', 390, 1229.4, 19.6);
  const sets = [
    [gMeanCtrl, gLowCtrl, gHighCtrl, gPointsCtrl, BLUE, 'circle', 'sictrl'],
    [gMeanSi, gLowSi, gHighSi, gPointsSi, RED, 'triangle', 'sispi1']
  ];
  sets.forEach((s, gp) => {
    gHaplotypes.forEach((lab, i) => {
      const cx = x(gp, i);
      line(g, 'x-tick', cx, y(0), cx, y(0) + 6);
      label(g, 'x-tick-label', lab, cx + 3, y(0) + 24, 20, { anchor: 'end', rotate: -37, italic: true });
      bar(g, 'bar-' + s[6] + '-' + lab, cx, 22.5, y(s[0][i]), y(0), s[4]);
      errorBar(g, 'error-' + s[6] + '-' + lab, cx, y(s[1][i]), y(s[2][i]), 5.5, s[4]);
      const off = swarm(s[3][i], y, 8);
      s[3][i].forEach((v, k) => {
        marker(g, 'point-' + s[6] + '-' + lab, s[5], cx + off[k], y(v), s[4], 3.3);
      });
    });
  });
  sig(g, 'p-value-ccc-ctc', 'P=0.031', 510.5, 1034.6, 523, 559.7, 1048);
  sig(g, 'p-value-ccc-ttt', 'P < 0.001', 531, 978.7, 523, 597, 992);
  sig(g, 'p-value-between-groups', 'P = 0.0476', 628, 941, 602.4, 723, 954.5);
  sig(g, 'p-value-si-ccc-ttt', 'P = 0.070', 643.5, 997.6, 651.7, 720, 1011);
  sig(g, 'p-value-si-ccc-ctc', 'P = 0.031', 628, 1043.6, 652.8, 688.4, 1057.3);
  marker(g, 'legend-marker-sictrl', 'circle', 775.5, 1095.6, BLUE, 3.5);
  label(g, 'legend-label-sictrl', [{ i: 'SiCtrl' }], 788.5, 1105, 19);
  marker(g, 'legend-marker-sispi1', 'triangle', 775.5, 1123, RED, 3.3);
  label(g, 'legend-label-sispi1', [{ i: 'siSPI1' }], 788.5, 1132, 19);
})();
</script>
</body>
</html>
